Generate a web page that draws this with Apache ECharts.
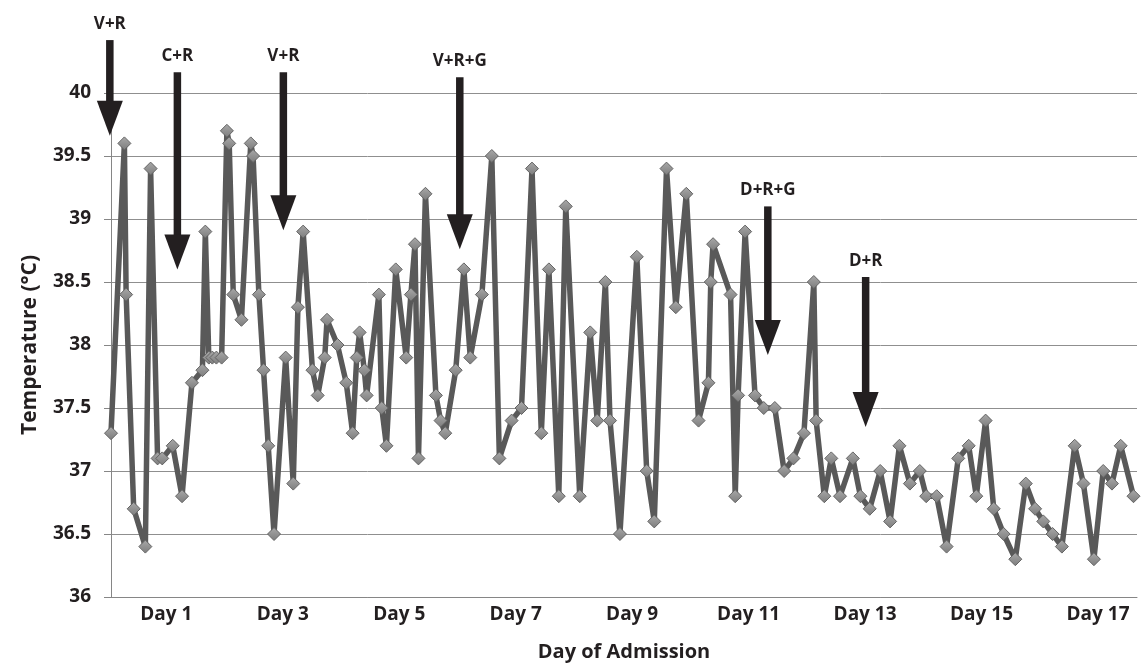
<!DOCTYPE html>
<html>
<head>
<meta charset="utf-8">
<script src="https://cdn.jsdelivr.net/npm/echarts@6/dist/echarts.min.js"></script>
<style>
  html, body { margin: 0; padding: 0; background: #fff; }
  #chart { width: 1144px; height: 667px; }
</style>
</head>
<body>
<div id="chart"></div>
<script>
// time of each reading, in days since admission
var readingDays = [
  0.05, 0.28, 0.31, 0.44, 0.64, 0.73, 0.85, 0.93, 1.11, 1.27,
  1.44, 1.62, 1.67, 1.73, 1.79, 1.86, 1.95, 2.04, 2.08, 2.15,
  2.29, 2.45, 2.49, 2.59, 2.67, 2.75, 2.85, 3.05, 3.18, 3.26,
  3.35, 3.51, 3.60, 3.72, 3.76, 3.94, 4.09, 4.20, 4.27, 4.32,
  4.40, 4.44, 4.65, 4.70, 4.78, 4.94, 5.12, 5.20, 5.27, 5.33,
  5.45, 5.63, 5.71, 5.79, 5.97, 6.11, 6.22, 6.42, 6.59, 6.72,
  6.93, 7.10, 7.28, 7.44, 7.57, 7.74, 7.86, 8.10, 8.28, 8.40,
  8.54, 8.62, 8.79, 9.08, 9.25, 9.38, 9.59, 9.75, 9.93, 10.14,
  10.31, 10.35, 10.39, 10.69, 10.77, 10.82, 10.94, 11.11, 11.26, 11.45,
  11.61, 11.77, 11.95, 12.12, 12.16, 12.30, 12.42, 12.57, 12.79, 12.92,
  13.08, 13.26, 13.43, 13.59, 13.77, 13.94, 14.05, 14.23, 14.40, 14.60,
  14.78, 14.91, 15.07, 15.21, 15.38, 15.58, 15.76, 15.92, 16.06, 16.22,
  16.38, 16.60, 16.75, 16.93, 17.09, 17.24, 17.39, 17.61
];
var temperatures = [
  37.3, 39.6, 38.4, 36.7, 36.4, 39.4, 37.1, 37.1, 37.2, 36.8,
  37.7, 37.8, 38.9, 37.9, 37.9, 37.9, 37.9, 39.7, 39.6, 38.4,
  38.2, 39.6, 39.5, 38.4, 37.8, 37.2, 36.5, 37.9, 36.9, 38.3,
  38.9, 37.8, 37.6, 37.9, 38.2, 38.0, 37.7, 37.3, 37.9, 38.1,
  37.8, 37.6, 38.4, 37.5, 37.2, 38.6, 37.9, 38.4, 38.8, 37.1,
  39.2, 37.6, 37.4, 37.3, 37.8, 38.6, 37.9, 38.4, 39.5, 37.1,
  37.4, 37.5, 39.4, 37.3, 38.6, 36.8, 39.1, 36.8, 38.1, 37.4,
  38.5, 37.4, 36.5, 38.7, 37.0, 36.6, 39.4, 38.3, 39.2, 37.4,
  37.7, 38.5, 38.8, 38.4, 36.8, 37.6, 38.9, 37.6, 37.5, 37.5,
  37.0, 37.1, 37.3, 38.5, 37.4, 36.8, 37.1, 36.8, 37.1, 36.8,
  36.7, 37.0, 36.6, 37.2, 36.9, 37.0, 36.8, 36.8, 36.4, 37.1,
  37.2, 36.8, 37.4, 36.7, 36.5, 36.3, 36.9, 36.7, 36.6, 36.5,
  36.4, 37.2, 36.9, 36.3, 37.0, 36.9, 37.2, 36.8
];

// treatment changes (arrows)
var treatmentLabels = ['V+R', 'C+R', 'V+R', 'V+R+G', 'D+R+G', 'D+R'];
var treatmentDays = [0.03, 1.19, 3.01, 6.04, 11.33, 13.01];
var arrowTopTemps = [40.42, 40.165, 40.165, 40.125, 39.10, 38.54];
var arrowTipTemps = [39.66, 38.60, 38.91, 38.76, 37.92, 37.35];

var dayLabels = [1, 3, 5, 7, 9, 11, 13, 15, 17];
var tempTicks = [36, 40, 0.5]; // min, max, step

var FONT = '"Open Sans", sans-serif';
var INK = '#231f20';

var chart = echarts.init(document.getElementById('chart'), null, { renderer: 'canvas' });

var lineData = readingDays.map(function (d, i) { return [d, temperatures[i]]; });
var arrowData = treatmentDays.map(function (d, i) { return [d, arrowTopTemps[i], arrowTipTemps[i]]; });

chart.setOption({
  animation: false,
  backgroundColor: '#fff',
  grid: { left: 111, right: 7, top: 93, bottom: 70 },
  xAxis: {
    type: 'value',
    min: 0.05,
    max: 17.67,
    name: 'Day of Admission',
    nameLocation: 'middle',
    nameGap: 45,
    nameTextStyle: { fontFamily: FONT, fontWeight: 'bold', fontSize: 20, color: INK },
    axisLine: { show: true, onZero: false, lineStyle: { color: '#868686', width: 1 } },
    axisTick: { show: false },
    splitLine: { show: false },
    axisLabel: {
      customValues: dayLabels,
      formatter: function (v) { return 'Day ' + v; },
      margin: 8,
      fontFamily: FONT, fontWeight: 'bold', fontSize: 19, color: INK
    }
  },
  yAxis: {
    type: 'value',
    min: tempTicks[0],
    max: tempTicks[1],
    interval: tempTicks[2],
    name: 'Temperature (°C)',
    nameLocation: 'middle',
    nameGap: 70,
    nameTextStyle: { fontFamily: FONT, fontWeight: 'bold', fontSize: 21, color: INK },
    axisLine: { show: true, lineStyle: { color: '#868686', width: 1 } },
    axisTick: { show: true, inside: false, length: 7, lineStyle: { color: '#868686' } },
    splitLine: { show: true, lineStyle: { color: '#8f8f8f', width: 1 } },
    axisLabel: {
      margin: 20,
      fontFamily: FONT, fontWeight: 'bold', fontSize: 19, color: INK
    }
  },
  series: [
    {
      type: 'line',
      data: lineData,
      symbol: 'diamond',
      symbolSize: 13,
      showAllSymbol: true,
      lineStyle: { color: '#595959', width: 5.5 },
      itemStyle: {
        color: new echarts.graphic.LinearGradient(0, 0, 0, 1, [
          { offset: 0, color: '#a9a9a9' },
          { offset: 1, color: '#7c7c7c' }
        ]),
        borderColor: '#646464',
        borderWidth: 1
      },
      z: 2
    },
    {
      type: 'custom',
      data: arrowData,
      encode: { x: 0, y: [1, 2] },
      clip: false,
      silent: true,
      z: 5,
      renderItem: function (params, api) {
        var top = api.coord([api.value(0), api.value(1)]);
        var tip = api.coord([api.value(0), api.value(2)]);
        var headH = 35, headW = 26, shaftW = 7.5;
        var baseY = tip[1] - headH;
        return {
          type: 'group',
          children: [
            {
              type: 'rect',
              shape: { x: top[0] - shaftW / 2, y: top[1], width: shaftW, height: baseY - top[1] + 1 },
              style: { fill: INK }
            },
            {
              type: 'polygon',
              shape: { points: [[tip[0] - headW / 2, baseY], [tip[0] + headW / 2, baseY], [tip[0], tip[1]]] },
              style: { fill: INK }
            },
            {
              type: 'text',
              x: top[0],
              y: top[1] - 16,
              style: {
                text: treatmentLabels[params.dataIndex],
                fill: INK,
                font: 'bold 17px ' + FONT,
                align: 'center',
                verticalAlign: 'middle'
              }
            }
          ]
        };
      }
    }
  ]
});
</script>
</body>
</html>
